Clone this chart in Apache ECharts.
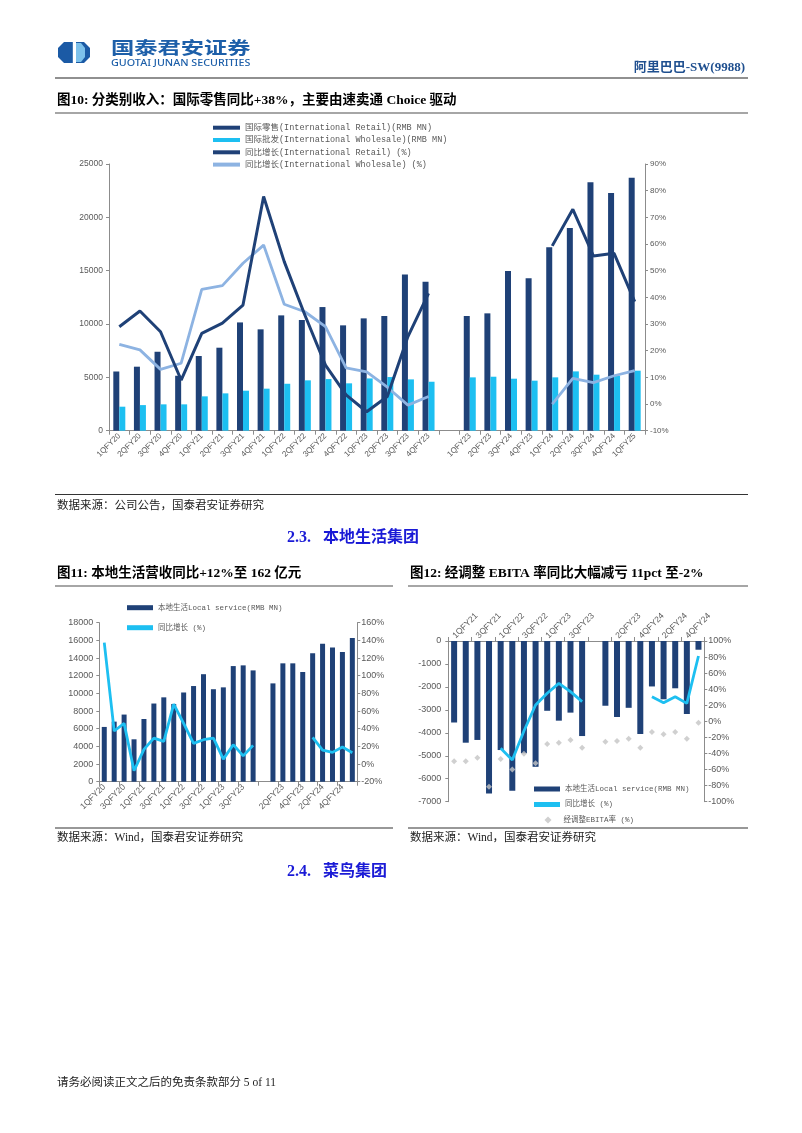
<!DOCTYPE html>
<html><head><meta charset="utf-8">
<script src="https://cdn.jsdelivr.net/npm/echarts@6/dist/echarts.min.js"></script>
<style>html,body{margin:0;padding:0;background:#fff}#c{width:802px;height:1133px}</style>
</head><body><div id="c"></div>
<script>
// ---------- Chart 1 data (图10) ----------
const cat1 = ['1QFY20','2QFY20','3QFY20','4QFY20','1QFY21','2QFY21','3QFY21','4QFY21','1QFY22','2QFY22','3QFY22','4QFY22','1QFY23','2QFY23','3QFY23','4QFY23','','1QFY23','2QFY23','3QFY24','4QFY23','1QFY24','2QFY24','3QFY24','4QFY24','1QFY25'];
const intlRetail = [5550,6000,7400,5150,7000,7780,10150,9500,10810,10375,11590,9875,10530,10750,14650,13970,null,10750,11000,14970,14280,17190,19000,23280,22280,23720];
const intlWholesale = [2250,2400,2470,2470,3220,3500,3750,3940,4400,4720,4840,4440,4900,5030,4810,4590,null,5000,5060,4875,4690,5000,5560,5250,5160,5625];
const retailYoY = [29,34.9,27.1,9,26.5,30.3,37.1,77.8,53.4,33.4,14.6,3.4,-2.9,2.8,25.3,41.5,null,null,null,null,null,59.3,73,55.5,56.5,38.4];
const wholesaleYoY = [22.4,20.3,13,15.3,43,44.4,52.8,59.6,37.4,34.6,29,13.6,12.1,6.3,-0.4,2.8,null,null,null,null,null,0,9.6,8,10.6,12.5];

// ---------- Chart 2 data (图11) ----------
const cat2 = ['1QFY20','2QFY20','3QFY20','4QFY20','1QFY21','2QFY21','3QFY21','4QFY21','1QFY22','2QFY22','3QFY22','4QFY22','1QFY23','2QFY23','3QFY23','4QFY23','','1QFY23','2QFY23','3QFY23','4QFY23','1QFY24','2QFY24','3QFY24','4QFY24','1QFY25'];
const localRev = [6200,6800,7600,4800,7100,8850,9550,8800,10100,10830,12170,10470,10680,13090,13170,12600,null,11130,13400,13400,12420,14530,15620,15200,14680,16260];
const localYoY = [137.4,37.4,46,-7.6,16.6,29.4,25.6,67.9,46,23.4,27.5,29.4,5.6,21.9,9.2,21.1,null,null,null,null,null,30.2,15.8,13.2,19.2,12.8];

// ---------- Chart 3 data (图12) ----------
const cat3 = ['1QFY21','2QFY21','3QFY21','4QFY21','1QFY22','2QFY22','3QFY22','4QFY22','1QFY23','2QFY23','3QFY23','4QFY23','','1QFY23','2QFY23','3QFY23','4QFY24','1QFY24','2QFY24','3QFY24','4QFY24','1QFY25'];
const localEbita = [-3550,-4430,-4310,-6640,-4750,-6520,-4890,-5480,-3040,-3470,-3120,-4140,null,-2820,-3310,-2910,-4050,-1980,-2540,-2060,-3180,-380];
const ebitaYoY = [null,null,null,null,-33.6,-48,-12,20.3,34.9,47.3,37,24.5,null,null,null,null,null,30.7,23.2,30.7,22.4,81.3];
const ebitaMargin = [-49.8,-49.8,-45.2,-81.3,-46.9,-59.8,-40.2,-52.3,-28.2,-26.6,-23.2,-32.8,null,-25.3,-24.5,-21.6,-32.8,-13.3,-16.2,-13.3,-21.6,-1.7];

// ---------- styles ----------
const NAVY = '#1F4177', CYAN = '#1DBFF1', LIGHT = '#8DB3E2', GREY_PT = '#C4C4C4';
const AX = '#8c8c8c', LAB = '#595959';
const SANS = '"Liberation Sans", Arial, sans-serif';
const MONO = '"Liberation Mono", "Noto Sans CJK SC", monospace';
const SERIF = '"Liberation Serif", "Noto Sans CJK SC", serif';

function xAx(g, data, opt) {
  return Object.assign({
    type: 'category', gridIndex: g, data: data, boundaryGap: true,
    axisLine: {show: true, lineStyle: {color: AX, width: 1}},
    axisTick: {show: true, length: 4, lineStyle: {color: AX}},
    splitLine: {show: false}
  }, opt || {});
}
function yAx(g, pos, min, max, interval, pct, fs, margin) {
  return {
    type: 'value', gridIndex: g, position: pos, min: min, max: max, interval: interval,
    splitLine: {show: false},
    axisLine: {show: true, lineStyle: {color: AX, width: 1}},
    axisTick: {show: true, length: 3, lineStyle: {color: AX}},
    axisLabel: {fontSize: fs, color: LAB, fontFamily: SANS, margin: margin,
      formatter: v => pct ? (v + '%') : String(v)}
  };
}

const chart = echarts.init(document.getElementById('c'), null, {renderer: 'canvas'});

const T = (text, x, y, font, fill, align, extra) => Object.assign({type: 'text', x: x, y: y, style: {text, x: 0, y: 0, font, fill: fill || '#000', align: align || 'left', verticalAlign: 'middle'}}, extra || {});
const L = (x1, y1, x2, y2, color, w) => ({type: 'line', shape: {x1, y1, x2, y2}, style: {stroke: color, lineWidth: w}});

const xlab = (interval, fs) => ({rotate: 45, interval: interval, fontSize: fs, color: LAB, fontFamily: SANS, margin: 4});

const option = {
  backgroundColor: '#fff',
  animation: false,
  grid: [
    {left: 109, top: 164, width: 536, height: 266.7},
    {left: 99.3, top: 622.7, width: 258, height: 159},
    {left: 448.3, top: 641, width: 256, height: 160.7}
  ],
  xAxis: [
    xAx(0, cat1, {axisLabel: xlab(0, 8)}),
    xAx(1, cat2, {axisLabel: xlab(1, 8.5)}),
    xAx(2, cat3, {position: 'top', axisLabel: xlab(1, 8.5)})
  ],
  yAxis: [
    yAx(0, 'left', 0, 25000, 5000, false, 8.5, 6),
    yAx(0, 'right', -10, 90, 10, true, 8, 5),
    yAx(1, 'left', 0, 18000, 2000, false, 9, 6),
    yAx(1, 'right', -20, 160, 20, true, 9, 4),
    yAx(2, 'left', -7000, 0, 1000, false, 9, 7),
    yAx(2, 'right', -100, 100, 20, true, 9, 4)
  ],
  legend: [
    {orient: 'vertical', left: 213, top: 122.7, padding: 0, itemWidth: 27, itemHeight: 4, itemGap: 2.3,
     textStyle: {fontFamily: MONO, fontSize: 8.5, color: LAB, lineHeight: 10},
     data: [
       {name: '国际零售(International Retail)(RMB MN)', icon: 'rect'},
       {name: '国际批发(International Wholesale)(RMB MN)', icon: 'rect'},
       {name: '同比增长(International Retail) (%)', icon: 'rect'},
       {name: '同比增长(International Wholesale) (%)', icon: 'rect'}
     ]},
    {orient: 'vertical', left: 127, top: 602.7, padding: 0, itemWidth: 26, itemHeight: 5, itemGap: 10,
     textStyle: {fontFamily: MONO, fontSize: 7.5, color: LAB, lineHeight: 10},
     data: [
       {name: '本地生活Local service(RMB MN)', icon: 'rect'},
       {name: '同比增长 (%)', icon: 'rect'}
     ]},
    {orient: 'vertical', left: 534, top: 784, padding: 0, itemWidth: 26, itemHeight: 5, itemGap: 5.5,
     textStyle: {fontFamily: MONO, fontSize: 7.5, color: LAB, lineHeight: 10},
     data: [
       {name: '本地生活Local service(RMB MN) ', icon: 'rect'},
       {name: '同比增长 (%) ', icon: 'rect'}
     ]},
    {orient: 'vertical', left: 544.5, top: 815, padding: 0, itemWidth: 7, itemHeight: 7, itemGap: 0,
     textStyle: {fontFamily: MONO, fontSize: 7.5, color: LAB, lineHeight: 10, padding: [0, 0, 0, 7]},
     data: [
       {name: '经调整EBITA率 (%)', icon: 'diamond'}
     ]}
  ],
  series: [
    {name: '国际零售(International Retail)(RMB MN)', type: 'bar', xAxisIndex: 0, yAxisIndex: 0, data: intlRetail,
     barWidth: 6, barGap: '0%', itemStyle: {color: NAVY}},
    {name: '国际批发(International Wholesale)(RMB MN)', type: 'bar', xAxisIndex: 0, yAxisIndex: 0, data: intlWholesale,
     barWidth: 6, barGap: '0%', itemStyle: {color: CYAN}},
    {name: '同比增长(International Retail) (%)', type: 'line', xAxisIndex: 0, yAxisIndex: 1, data: retailYoY,
     symbol: 'none', lineStyle: {color: NAVY, width: 3}, itemStyle: {color: NAVY}, z: 5},
    {name: '同比增长(International Wholesale) (%)', type: 'line', xAxisIndex: 0, yAxisIndex: 1, data: wholesaleYoY,
     symbol: 'none', lineStyle: {color: LIGHT, width: 2.8}, itemStyle: {color: LIGHT}, z: 4},

    {name: '本地生活Local service(RMB MN)', type: 'bar', xAxisIndex: 1, yAxisIndex: 2, data: localRev,
     barWidth: 5, itemStyle: {color: NAVY}},
    {name: '同比增长 (%)', type: 'line', xAxisIndex: 1, yAxisIndex: 3, data: localYoY,
     symbol: 'none', lineStyle: {color: CYAN, width: 2.8}, itemStyle: {color: CYAN}, z: 5},

    {name: '本地生活Local service(RMB MN) ', type: 'bar', xAxisIndex: 2, yAxisIndex: 4, data: localEbita,
     barWidth: 6, itemStyle: {color: NAVY}},
    {name: '同比增长 (%) ', type: 'line', xAxisIndex: 2, yAxisIndex: 5, data: ebitaYoY,
     symbol: 'none', lineStyle: {color: CYAN, width: 2.8}, itemStyle: {color: CYAN}, z: 5},
    {name: '经调整EBITA率 (%)', type: 'scatter', xAxisIndex: 2, yAxisIndex: 5, data: ebitaMargin,
     symbol: 'diamond', symbolSize: 6, itemStyle: {color: GREY_PT}, z: 6}
  ],
  graphic: {elements: [
    // logo
    {type: 'polygon', shape: {points: [[64,42],[84,42],[90,48],[90,57],[84,63],[64,63],[58,57],[58,48]]}, style: {fill: '#1B5AA5'}},
    {type: 'polygon', shape: {points: [[76,43],[81,43],[85,48],[85,57],[81,62],[76,62]]}, style: {fill: '#7DC1EB'}},
    {type: 'rect', shape: {x: 72.8, y: 42, width: 3.2, height: 21}, style: {fill: '#fff'}},
    T('国泰君安证券', 111, 47.5, 'bold 17.5px "Noto Sans CJK SC", sans-serif', '#1D5FA9', 'left', {scaleX: 1.33}),
    T('GUOTAI JUNAN SECURITIES', 111, 63, '500 9.6px "Noto Sans", sans-serif', '#1D5FA9', 'left', {scaleX: 1.12}),
    T('阿里巴巴-SW(9988)', 745, 68, 'bold 13px ' + SERIF, '#1F4F8F', 'right'),
    L(55, 78, 748, 78, '#222', 1.2),
    T('图10: 分类别收入：国际零售同比+38%，主要由速卖通 Choice 驱动', 57, 101, 'bold 13.5px ' + SERIF, '#000'),
    L(55, 113, 748, 113, '#A6A6A6', 2),
    L(55, 494.5, 748, 494.5, '#333', 1.2),
    T('数据来源：公司公告，国泰君安证券研究', 57, 506, '11.5px ' + SERIF, '#222'),
    T('2.3.   本地生活集团', 287, 538, 'bold 16px ' + SERIF, '#1A1AD6'),
    T('图11: 本地生活营收同比+12%至 162 亿元', 57, 574, 'bold 13.5px ' + SERIF, '#000'),
    T('图12: 经调整 EBITA 率同比大幅减亏 11pct 至-2%', 410, 574, 'bold 13.5px ' + SERIF, '#000'),
    L(55, 586, 393, 586, '#A6A6A6', 2),
    L(408, 586, 748, 586, '#A6A6A6', 2),
    L(55, 828, 393, 828, '#333', 1.2),
    L(408, 828, 748, 828, '#333', 1.2),
    T('数据来源：Wind，国泰君安证券研究', 57, 838, '11.5px ' + SERIF, '#222'),
    T('数据来源：Wind，国泰君安证券研究', 410, 838, '11.5px ' + SERIF, '#222'),
    T('2.4.   菜鸟集团', 287, 872, 'bold 16px ' + SERIF, '#1A1AD6'),
    T('请务必阅读正文之后的免责条款部分 5 of 11', 57, 1083, '11.5px ' + SERIF, '#222')
  ]}
};
chart.setOption(option);
</script>
</body></html>
